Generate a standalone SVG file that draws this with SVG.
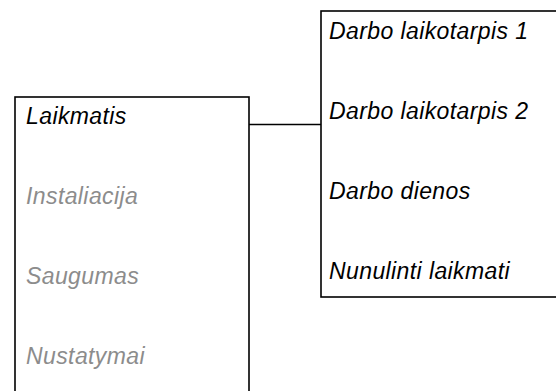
<svg xmlns="http://www.w3.org/2000/svg" width="556" height="391" viewBox="0 0 556 391">
<style>
.box{fill:#fff;stroke:#000;stroke-width:1.6}
.t{font-family:"Liberation Sans",Arial,sans-serif;font-style:italic;font-size:23px;letter-spacing:0.4px;fill:#000}
.g{fill:#8c8c8c}
.c{stroke:#000;stroke-width:1.6;fill:none}
</style>
<rect width="556" height="391" fill="#fff"/>
<g id="connectors"><path class="c" d="M249 124.5H321"/></g>
<g id="menu">
<rect class="box" x="15" y="97" width="234" height="300"/>
<text class="t" x="26" y="123.5">Laikmatis</text>
<text class="t g" x="26" y="203.5">Instaliacija</text>
<text class="t g" x="26" y="284">Saugumas</text>
<text class="t g" x="26" y="364">Nustatymai</text>
</g>
<g id="submenu">
<rect class="box" x="321" y="11" width="240" height="286"/>
<text class="t" x="329" y="39">Darbo laikotarpis 1</text>
<text class="t" x="329" y="119">Darbo laikotarpis 2</text>
<text class="t" x="329" y="199">Darbo dienos</text>
<text class="t" x="329" y="279">Nunulinti laikmati</text>
</g>
</svg>
